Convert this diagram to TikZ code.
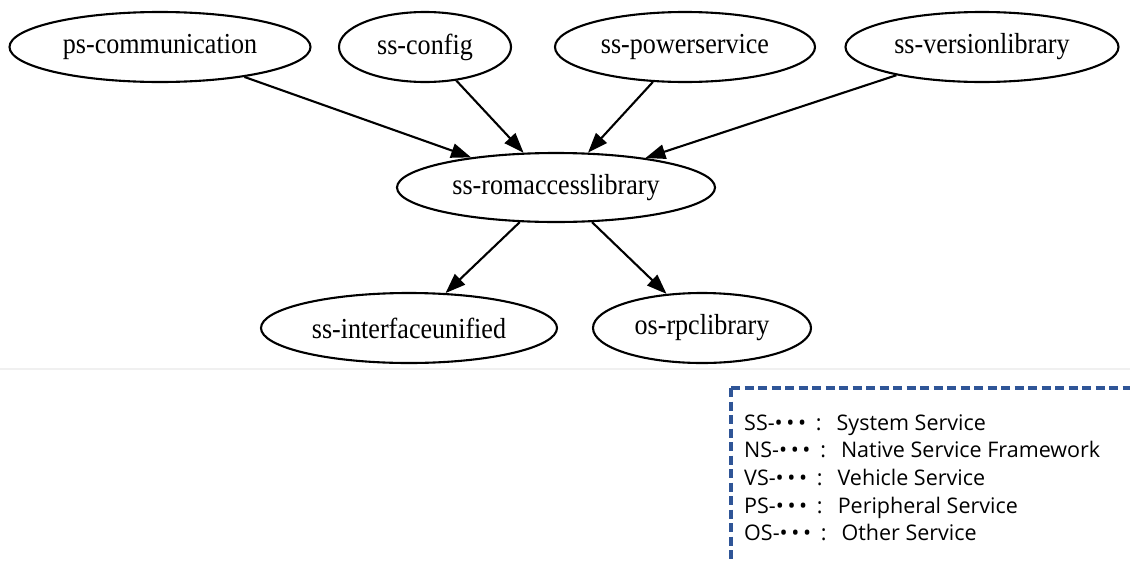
\documentclass[tikz,border=0pt]{standalone}
\usepackage{fontspec}
\setmainfont{Liberation Serif}
\newfontfamily\pkgfont[FakeStretch=0.9]{Liberation Serif}
\newfontfamily\legendfont{Open Sans}
\usetikzlibrary{shapes.geometric,arrows.meta}
\definecolor{legendblue}{RGB}{47,85,151}
\newcommand\legdots{•\kern3.6pt•\kern3.6pt•}
\begin{document}
\begin{tikzpicture}[x=1pt,y=-1pt,
  pkg/.style={ellipse,draw,line width=2.1pt,inner sep=0pt,minimum height=70pt,
    font=\pkgfont\fontsize{29}{32}\selectfont},
  dep/.style={line width=2.1pt,-{Triangle[length=20pt,width=14.5pt]}},
  legendline/.style={anchor=base west,inner sep=0pt,
    font=\legendfont\fontsize{21.5}{26}\selectfont}]
\useasboundingbox (0,0) rectangle (1130,563);
\fill[white] (0,0) rectangle (1130,563);

% package nodes
\node[pkg,minimum width=301pt] (pscomm)    at (160,47)  {ps-communication};
\node[pkg,minimum width=172pt] (ssconfig)  at (425,47)  {ss-config};
\node[pkg,minimum width=260pt] (sspower)   at (685,47)  {ss-powerservice};
\node[pkg,minimum width=273pt] (ssversion) at (982,47)  {ss-versionlibrary};
\node[pkg,minimum width=318pt,minimum height=69pt] (ssrom) at (556,187.5) {ss-romaccesslibrary};
\node[pkg,minimum width=296pt] (ssiface)   at (409,328) {ss-interfaceunified};
\node[pkg,minimum width=218pt] (osrpc)     at (702,328) {os-rpclibrary};

% dependencies
\draw[dep] (pscomm)    -- (ssrom);
\draw[dep] (ssconfig)  -- (ssrom);
\draw[dep] (sspower)   -- (ssrom);
\draw[dep] (ssversion) -- (ssrom);
\draw[dep] (ssrom) -- (ssiface);
\draw[dep] (ssrom) -- (osrpc);

% separator under the graph
\coordinate (sepL) at (0,369);
\coordinate (sepR) at (1130,369);
\draw[black!6,line width=1.2pt] (sepL) -- (sepR);

% legend frame
\coordinate (legcorner) at (731,388);
\coordinate (legright) at (1130,388);
\coordinate (legbottom) at (731,563);
\draw[legendblue,line width=3.2pt,dash pattern=on 9pt off 4.5pt] (legcorner) -- (legright);
\draw[legendblue,line width=3.2pt,dash pattern=on 9pt off 4.5pt] (legcorner) -- (legbottom);

% legend text
\node[legendline] (legss) at (744,430)   {SS-\legdots\hspace{0.45em}:\hspace{0.7em}System Service};
\node[legendline] (legns) at (744,457.5) {NS-\legdots\hspace{0.45em}:\hspace{0.7em}Native Service Framework};
\node[legendline] (legvs) at (744,485)   {VS-\legdots\hspace{0.45em}:\hspace{0.7em}Vehicle Service};
\node[legendline] (legps) at (744,513)   {PS-\legdots\hspace{0.45em}:\hspace{0.7em}Peripheral Service};
\node[legendline] (legos) at (744,540.5) {OS-\legdots\hspace{0.45em}:\hspace{0.7em}Other Service};
\end{tikzpicture}
\end{document}
